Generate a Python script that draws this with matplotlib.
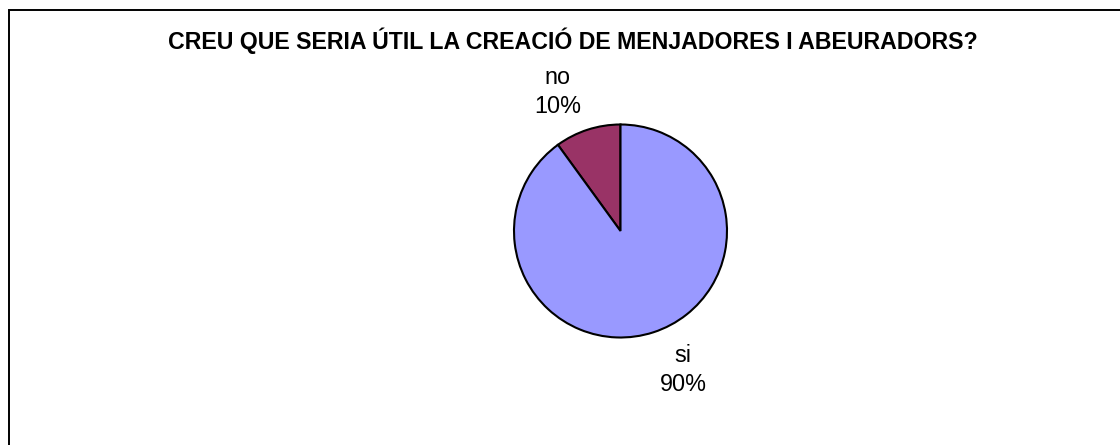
import matplotlib
matplotlib.use("Agg")
import matplotlib.pyplot as plt
import numpy as np
from matplotlib.patches import Rectangle

TITLE = "CREU QUE SERIA ÚTIL LA CREACIÓ DE MENJADORES I ABEURADORS?"
LABELS = ["no", "si"]
VALUES = [10, 90]
COLORS = ["#993366", "#9999FF"]

W, H = 1120, 445
plt.rcParams["font.family"] = ["Liberation Sans", "DejaVu Sans"]

fig = plt.figure(figsize=(W / 100, H / 100), dpi=100)
fig.patch.set_facecolor("white")

# chart frame: only the top and left edges fall inside the picture
x0, y0 = 8.5, 10.5
fig.patches.append(Rectangle((x0 / W, -0.1), 1.2, 1.1 - y0 / H,
                             transform=fig.transFigure, fill=False,
                             edgecolor="black", linewidth=1.4))

fig.text(573 / W, 1 - 48.5 / H, TITLE, ha="center", va="baseline",
         fontsize=16.7, fontweight="bold")

cx, cy, r = 620.5, 231, 106.5
ax = fig.add_axes([(cx - r) / W, (H - cy - r) / H, 2 * r / W, 2 * r / H])
wedges, texts = ax.pie(VALUES, labels=LABELS, colors=COLORS, startangle=90,
                       counterclock=True,
                       wedgeprops=dict(edgecolor="black", linewidth=1.5))
ax.set_xlim(-1, 1)
ax.set_ylim(-1, 1)
ax.set_aspect("equal")

total = sum(VALUES)
for w, t, lab, v in zip(wedges, texts, LABELS, VALUES):
    mid = np.deg2rad((w.theta1 + w.theta2) / 2 + 6.3)
    t.set_position((1.43 * np.cos(mid), 1.43 * np.sin(mid)))
    t.set_text(f"{lab}\n{v / total * 100:.0f}%")
    t.set_ha("center")
    t.set_va("center")
    t.set_fontsize(16.8)
    t.set_linespacing(1.35)

fig.savefig("out.png", dpi=100)
